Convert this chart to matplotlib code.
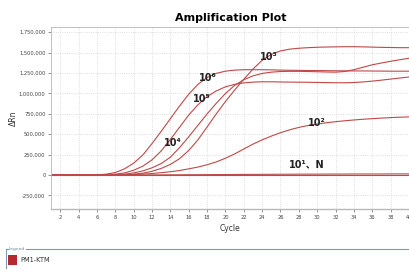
import matplotlib
matplotlib.use("Agg")
import matplotlib.pyplot as plt
from matplotlib.patches import Rectangle
from matplotlib.lines import Line2D
from matplotlib.ticker import FuncFormatter

# cycles 1..40
cycles = list(range(1, 41))

# dRn values, one value per cycle
dilution_1e6 = [0, 0, 0, 0, 0, 2e3, 10e3, 30e3, 75e3, 145e3,
                245e3, 385e3, 535e3, 690e3, 845e3, 990e3, 1110e3, 1195e3, 1245e3, 1272e3,
                1285e3, 1290e3, 1290e3, 1290e3, 1288e3, 1285e3, 1283e3, 1282e3, 1280e3, 1280e3,
                1278e3, 1277e3, 1276e3, 1275e3, 1275e3, 1274e3, 1273e3, 1272e3, 1272e3, 1272e3]
dilution_1e5 = [0, 0, 0, 0, 0, 0, 3e3, 10e3, 25e3, 58e3,
                108e3, 185e3, 295e3, 435e3, 585e3, 735e3, 860e3, 960e3, 1030e3, 1080e3,
                1110e3, 1128e3, 1138e3, 1142e3, 1142e3, 1140e3, 1138e3, 1137e3, 1136e3, 1134e3,
                1132e3, 1130e3, 1130e3, 1133e3, 1140e3, 1150e3, 1162e3, 1175e3, 1188e3, 1200e3]
dilution_1e4 = [0, 0, 0, 0, 0, 0, 0, 3e3, 10e3, 25e3,
                50e3, 88e3, 140e3, 218e3, 335e3, 468e3, 608e3, 748e3, 878e3, 998e3,
                1098e3, 1168e3, 1214e3, 1244e3, 1260e3, 1268e3, 1270e3, 1270e3, 1268e3, 1265e3,
                1262e3, 1260e3, 1268e3, 1290e3, 1320e3, 1350e3, 1372e3, 1393e3, 1412e3, 1430e3]
dilution_1e3 = [0, 0, 0, 0, 0, 0, 0, 0, 3e3, 10e3,
                22e3, 45e3, 80e3, 130e3, 200e3, 300e3, 430e3, 588e3, 748e3, 900e3,
                1040e3, 1172e3, 1298e3, 1405e3, 1478e3, 1520e3, 1542e3, 1553e3, 1560e3, 1565e3,
                1568e3, 1570e3, 1572e3, 1572e3, 1570e3, 1567e3, 1564e3, 1562e3, 1560e3, 1560e3]
dilution_1e2 = [0, 0, 0, 0, 0, 0, 0, 0, 2e3, 5e3,
                10e3, 18e3, 28e3, 40e3, 55e3, 75e3, 97e3, 125e3, 160e3, 205e3,
                258e3, 318e3, 378e3, 430e3, 476e3, 518e3, 553e3, 583e3, 606e3, 624e3,
                640e3, 653e3, 664e3, 674e3, 683e3, 690e3, 697e3, 703e3, 708e3, 712e3]
dilution_1e1 = [0, 0, 0, 0, 0, 0, 0, 0, 0, 0,
                0, 1e3, 1e3, 2e3, 2e3, 3e3, 3e3, 4e3, 5e3, 5e3,
                6e3, 7e3, 7e3, 8e3, 8e3, 9e3, 9e3, 10e3, 10e3, 10e3,
                11e3, 11e3, 11e3, 12e3, 12e3, 12e3, 12e3, 13e3, 13e3, 13e3]
negative = [0] * 40

series = [dilution_1e6, dilution_1e5, dilution_1e4, dilution_1e3, dilution_1e2, dilution_1e1, negative]

# curve labels: text, cycle, dRn
labels = ["10⁶", "10⁵", "10⁴", "10³", "10²", "10¹、N"]
label_x = [18.1, 17.4, 14.3, 24.7, 30.0, 28.9]
label_y = [1.19e6, 0.93e6, 0.39e6, 1.45e6, 0.64e6, 0.125e6]

x_ticks = list(range(2, 41, 2))
y_ticks = list(range(-250000, 1750001, 250000))

curve_color = "#c04848"

fig = plt.figure(figsize=(4.09, 2.75), dpi=100)
ax = fig.add_axes([0.125, 0.24, 0.877, 0.662])

for s in series:
    ax.plot(cycles, s, color=curve_color, linewidth=0.8)

for txt, lx, ly in zip(labels, label_x, label_y):
    ax.text(lx, ly, txt, fontsize=7, fontweight="bold", ha="center", va="center",
            family=["DejaVu Sans", "Noto Sans CJK SC"], color="#222222")

ax.set_xlim(1, 40.1)
ax.set_ylim(-417000, 1814000)
ax.set_xticks(x_ticks)
ax.set_yticks(y_ticks)
ax.yaxis.set_major_formatter(FuncFormatter(lambda v, p: f"{int(v):,}"))
ax.tick_params(labelsize=3.7, colors="#444444", length=2, width=0.4, pad=2)
ax.grid(True, color="#d4d4d4", linestyle=":", linewidth=0.6)
for side in ["left", "bottom", "top", "right"]:
    ax.spines[side].set_color("#b8b8b8")
    ax.spines[side].set_linewidth(0.6)
ax.spines["bottom"].set_linewidth(1.0)

ax.set_title("Amplification Plot", fontsize=8, fontweight="bold", pad=4)
ax.set_xlabel("Cycle", fontsize=5.5, color="#333333", labelpad=3)
ax.set_ylabel("ΔRn", fontsize=5.5, color="#333333")
ax.yaxis.set_label_coords(-0.092, 0.5)

# legend panel at the bottom
box_y = 1 - 249 / 275
fig.add_artist(Line2D([6 / 409, 1.0], [box_y, box_y], color="#7f9ab5", linewidth=0.8))
fig.add_artist(Line2D([6 / 409, 6 / 409], [box_y, box_y - 0.07], color="#7f9ab5", linewidth=0.8))
fig.text(9 / 409, box_y, "Legend", fontsize=3.2, color="#6a86a4", va="center",
         bbox=dict(facecolor="white", edgecolor="none", pad=0.3))
fig.add_artist(Rectangle((8 / 409, 1 - 265 / 275), 9 / 409, 10 / 275,
                         facecolor="#b52a2e", edgecolor="none", transform=fig.transFigure))
fig.text(20 / 409, 1 - 260 / 275, "PM1-KTM", fontsize=4.8, color="#333333", va="center")

fig.savefig("out.png", dpi=100)
